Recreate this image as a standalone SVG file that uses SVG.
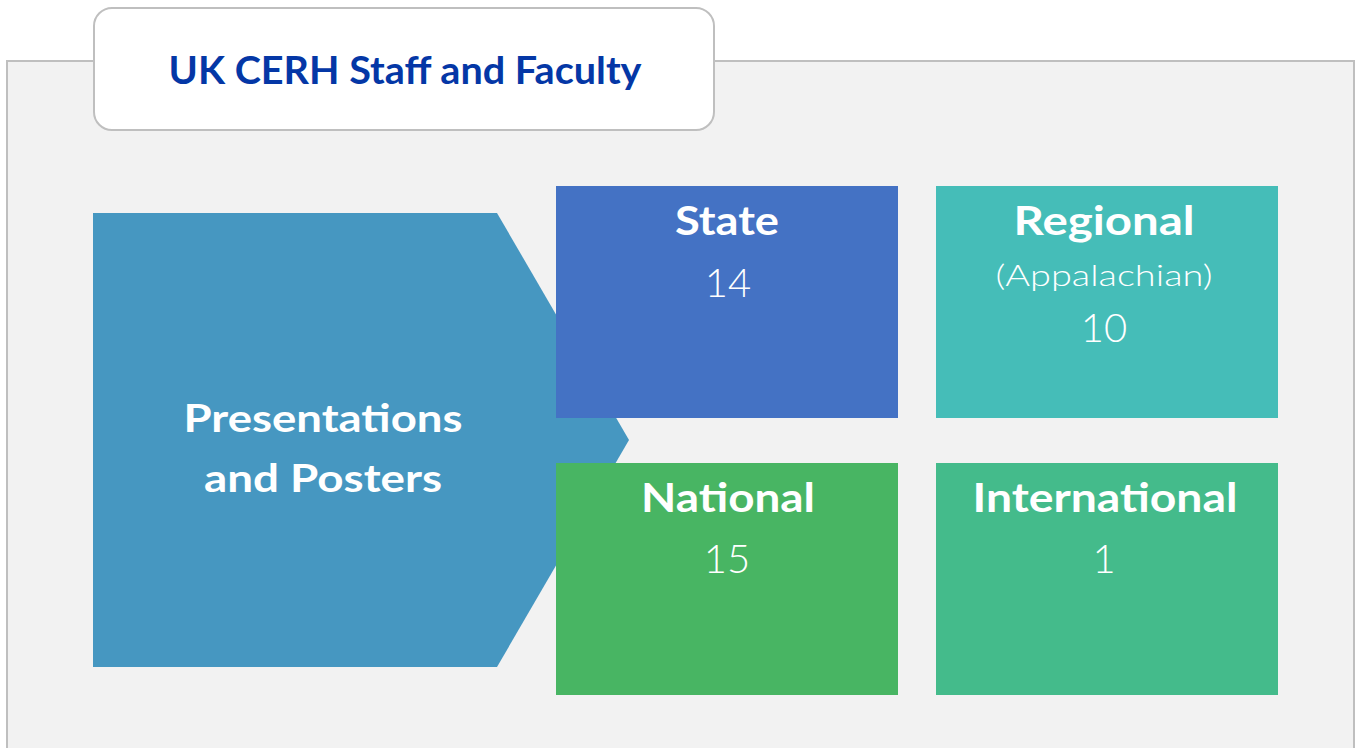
<svg xmlns="http://www.w3.org/2000/svg" width="1356" height="748" viewBox="0 0 1356 748">
<style>
.hd{font-family:Lato,"Open Sans","Liberation Sans",sans-serif;font-weight:700;fill:#ffffff;text-anchor:middle}
.nm{font-family:Lato,"Open Sans","Liberation Sans",sans-serif;font-weight:300;fill:#ffffff;text-anchor:middle}
</style>
<rect width="1356" height="748" fill="#ffffff"/>
<rect x="7" y="61" width="1347" height="700" fill="#f2f2f2" stroke="#bfbfbf" stroke-width="2"/>
<g id="title">
<rect x="94" y="8" width="620" height="122" rx="18" fill="#ffffff" stroke="#bfbfbf" stroke-width="2"/>
<text x="405" y="84" font-family="Lato,'Open Sans','Liberation Sans',sans-serif" font-weight="700" font-size="38" fill="#0437a6" text-anchor="middle" textLength="473" lengthAdjust="spacingAndGlyphs">UK CERH Staff and Faculty</text>
</g>
<g id="source">
<polygon points="93,213 497,213 629,440 497,667 93,667" fill="#4697c1"/>
<text class="hd" x="323" y="432" font-size="39" textLength="279" lengthAdjust="spacingAndGlyphs">Presentations</text>
<text class="hd" x="323" y="492" font-size="39" textLength="238" lengthAdjust="spacingAndGlyphs">and Posters</text>
</g>
<g id="state">
<rect x="556" y="186" width="342" height="232" fill="#4472c4"/>
<text class="hd" x="727" y="235" font-size="40" textLength="104" lengthAdjust="spacingAndGlyphs">State</text>
<text class="nm" x="728" y="297" font-size="40">14</text>
</g>
<g id="regional">
<rect x="936" y="186" width="342" height="232" fill="#45bdb8"/>
<text class="hd" x="1104" y="235" font-size="40" textLength="181" lengthAdjust="spacingAndGlyphs">Regional</text>
<text class="nm" x="1104" y="286" font-size="30" textLength="217" lengthAdjust="spacingAndGlyphs">(Appalachian)</text>
<text class="nm" x="1104" y="342" font-size="40">10</text>
</g>
<g id="national">
<rect x="556" y="463" width="342" height="232" fill="#48b563"/>
<text class="hd" x="728" y="512" font-size="40" textLength="174" lengthAdjust="spacingAndGlyphs">National</text>
<text class="nm" x="727" y="573" font-size="40">15</text>
</g>
<g id="international">
<rect x="936" y="463" width="342" height="232" fill="#44bb8b"/>
<text class="hd" x="1105" y="512" font-size="40" textLength="265" lengthAdjust="spacingAndGlyphs">International</text>
<text class="nm" x="1104" y="573" font-size="40">1</text>
</g>
<g id="connectors"></g>
</svg>
